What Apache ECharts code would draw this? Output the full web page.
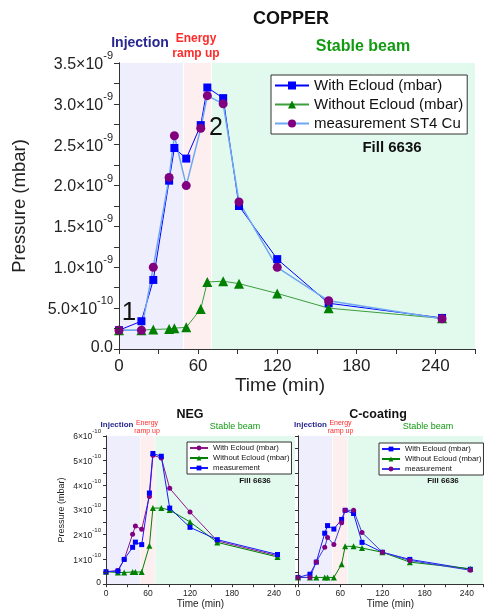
<!DOCTYPE html>
<html>
<head>
<meta charset="utf-8">
<script src="https://cdn.jsdelivr.net/npm/echarts@6/dist/echarts.min.js"></script>
<style>
html,body{margin:0;padding:0;background:#fff;}
#c{width:486px;height:610px;}
</style>
</head>
<body>
<div id="c"></div>
<script>
// ---- shared time axis (min) ----
const timeMin = [0, 17, 26, 38, 42, 51, 62, 67, 79, 91, 120, 159, 245];
// ---- COPPER (values in units of 1e-9 mbar) ----
const cuWithEcloud    = [0.23, 0.34, 0.845, 2.06, 2.46, 2.33, 2.74, 3.20, 3.07, 1.75, 1.10, 0.56, 0.38];
const cuWithoutEcloud = [0.23, 0.23, 0.24, 0.245, 0.255, 0.265, 0.49, 0.82, 0.83, 0.80, 0.68, 0.50, 0.375];
const cuMeasurement   = [0.23, 0.23, 1.00, 2.10, 2.61, 2.00, 2.70, 3.10, 3.00, 1.80, 1.00, 0.59, 0.37];
// ---- NEG (values in units of 1e-10 mbar) ----
const negWithEcloud    = [0.50, 0.55, 1.00, 2.02, 2.35, 2.22, 3.55, 5.22, 5.11, 3.88, 2.92, 1.75, 1.15];
const negWithoutEcloud = [0.50, 0.47, 0.47, 0.49, 0.49, 0.49, 1.55, 3.08, 3.08, 3.00, 2.52, 1.69, 1.10];
const negMeasurement   = [0.50, 0.53, 1.00, 1.49, 1.70, 1.60, 3.69, 5.29, 5.18, 3.08, 2.30, 1.80, 1.20];
// ---- C-coating (values in units of 1e-10 mbar) ----
const ccWithEcloud    = [0.27, 0.40, 0.89, 2.06, 2.37, 2.23, 2.62, 2.99, 2.86, 1.69, 1.29, 1.00, 0.60];
const ccWithoutEcloud = [0.27, 0.27, 0.27, 0.27, 0.27, 0.27, 0.80, 1.53, 1.53, 1.46, 1.29, 0.89, 0.62];
const ccMeasurement   = [0.27, 0.27, 0.90, 1.49, 1.89, 1.60, 2.49, 2.99, 2.99, 2.09, 1.29, 0.96, 0.56];
// ---- beam phases (min) ----
const phaseInjection = [0, 48.4];
const phaseRamp = [49.2, 69.9];
const phaseStable = [70.5, 270];
// ---- tick labels ----
const xTickLabels = [0, 60, 120, 180, 240];

const FONT = '"Liberation Sans", Arial, sans-serif';
const pairs = (ys) => timeMin.map((t, i) => [t, ys[i]]);

const chart = echarts.init(document.getElementById('c'), null, {renderer: 'canvas'});

function fmtMain(v) {
  const r = Math.round(v * 100) / 100;
  if (Math.abs(r * 2 - Math.round(r * 2)) > 1e-6) return '';
  if (r === 0) return '{m|0.0}';
  if (r < 1) return '{m|' + (r * 10).toFixed(1) + '×10}{s|-10}';
  return '{m|' + r.toFixed(1) + '×10}{s|-9}';
}
function fmtSmall(v) {
  const r = Math.round(v * 100) / 100;
  if (Math.abs(r - Math.round(r)) > 1e-6) return '';
  if (r === 0) return '{m|0}';
  return '{m|' + r + '×10}{s|-10}';
}
const fmtX = (v) => (xTickLabels.indexOf(v) >= 0 ? String(v) : '');

function xAxes(grid, max, big) {
  const fs = big ? 17 : 8.5;
  return [
    {type: 'value', gridIndex: grid, min: 0, max: max, interval: 30, position: 'bottom', z: 5,
     axisLine: {lineStyle: {color: '#333', width: 1}},
     axisTick: {inside: false, length: big ? 5 : 3, lineStyle: {color: '#333'}},
     axisLabel: {formatter: fmtX, fontSize: fs, color: '#222', fontFamily: FONT, margin: big ? 9 : 5},
     splitLine: {show: false},
     name: 'Time (min)', nameLocation: 'middle', nameGap: big ? 25 : 13,
     nameTextStyle: {fontSize: big ? 19 : 10, color: '#222', fontFamily: FONT, padding: big ? [0, 34, 0, 0] : 0}},
    {type: 'value', gridIndex: grid, min: 0, max: max, interval: 30, position: 'top', z: 5,
     axisLine: {lineStyle: {color: '#333', width: 1}},
     axisTick: {inside: true, length: big ? 5 : 3, lineStyle: {color: '#333'}},
     axisLabel: {show: false}, splitLine: {show: false}}
  ];
}
function yAxes(grid, max, interval, big, showLabels) {
  const fs = big ? 16 : 8.5;
  const left = {type: 'value', gridIndex: grid, min: 0, max: max, interval: interval, position: 'left', z: 5,
     axisLine: {show: true, lineStyle: {color: '#333', width: 1}},
     axisTick: {show: true, inside: false, length: big ? 5 : 3, lineStyle: {color: '#333'}},
     axisLabel: {show: showLabels, formatter: big ? fmtMain : fmtSmall, margin: big ? 6 : 5, color: '#222', fontFamily: FONT,
       padding: big ? [0, 0, 6, 0] : [0, 0, 4, 0],
       rich: {m: {fontSize: fs, fontFamily: FONT, color: '#222', verticalAlign: 'bottom', padding: big ? [0, 0, -3, 0] : [0, 0, -2, 0]},
              s: {fontSize: big ? 11 : 6, fontFamily: FONT, color: '#222', verticalAlign: 'bottom',
                  padding: big ? [0, 0, 8, 0] : [0, 0, 5, 0]}}},
     splitLine: {show: false}};
  if (showLabels) {
    left.name = 'Pressure (mbar)';
    left.nameLocation = 'middle';
    left.nameGap = big ? 90 : 40;
    left.nameTextStyle = {fontSize: big ? 18.5 : 9, color: '#222', fontFamily: FONT};
  }
  const right = {type: 'value', gridIndex: grid, min: 0, max: max, interval: interval, position: 'right', z: 5,
     axisLine: {show: true, lineStyle: {color: '#333', width: 1}},
     axisTick: {show: true, inside: true, length: big ? 5 : 3, lineStyle: {color: '#333'}},
     axisLabel: {show: false}, splitLine: {show: false}};
  return [left, right];
}

function bandSeries(xi, yi) {
  return {type: 'line', xAxisIndex: xi, yAxisIndex: yi, data: [], silent: true, z: 0,
    markArea: {silent: true, z: 0, label: {show: false},
      data: [
        [{xAxis: phaseInjection[0], itemStyle: {color: '#eeeefc'}}, {xAxis: phaseInjection[1]}],
        [{xAxis: phaseRamp[0], itemStyle: {color: '#fdefef'}}, {xAxis: phaseRamp[1]}],
        [{xAxis: phaseStable[0], itemStyle: {color: '#e2f9ee'}}, {xAxis: phaseStable[1]}]
      ]}};
}
function lineSeries(name, xi, yi, ys, lineColor, markColor, symbol, size, lw) {
  return {type: 'line', name: name, xAxisIndex: xi, yAxisIndex: yi, data: pairs(ys),
    symbol: symbol, symbolSize: size, showAllSymbol: true, z: 3,
    lineStyle: {color: lineColor, width: lw},
    itemStyle: {color: markColor, borderWidth: 0},
    emphasis: {disabled: true}, animation: false};
}

// unique legend keys per panel (zero-width suffix), stripped for display
const Z1 = '\u200b', Z2 = '\u200b\u200b';
const strip = (n) => n.replace(/\u200b/g, '');

const legendBase = (big) => ({
  orient: 'vertical', backgroundColor: '#fff', borderColor: '#333', borderWidth: 1,
  borderRadius: 0, formatter: strip, selectedMode: false,
  itemWidth: big ? 34 : 18, itemHeight: big ? 10 : 6, itemGap: big ? 4 : 2,
  padding: big ? [3, 4, 3, 3] : [2, 2, 2, 2],
  textStyle: {fontSize: big ? 15 : 7.7, color: '#111', fontFamily: FONT, lineHeight: big ? 15 : 8, padding: 0}
});

const txt = (x, y, text, size, color, bold, align) => ({
  type: 'text', x: x, y: y, z: 10,
  style: {text: text, fontSize: size, fontFamily: FONT, fontWeight: bold ? 'bold' : 'normal',
          fill: color, textAlign: align || 'center', textVerticalAlign: 'middle'}
});

const NAVY = '#27278f', RED = '#ff2a2a', GREEN = '#139a13';

const option = {
  backgroundColor: '#fff',
  animation: false,
  grid: [
    {left: 119, top: 63, width: 356, height: 286},
    {left: 106, top: 436, width: 189, height: 151},
    {left: 298, top: 436, width: 186, height: 151}
  ],
  xAxis: [].concat(xAxes(0, 270, true), xAxes(1, 270, false), xAxes(2, 263, false)),
  yAxis: [].concat(yAxes(0, 3.5, 0.25, true, true), yAxes(1, 6, 0.5, false, true), yAxes(2, 6, 0.5, false, false)),
  legend: [
    Object.assign(legendBase(true), {left: 271, top: 75,
      data: ['With Ecloud (mbar)', 'Without Ecloud (mbar)', 'measurement ST4 Cu']}),
    Object.assign(legendBase(false), {left: 187, top: 442,
      data: ['With Ecloud (mbar)' + Z1, 'Without Ecloud (mbar)' + Z1, 'measurement' + Z1]}),
    Object.assign(legendBase(false), {left: 379, top: 443,
      data: ['With Ecloud (mbar)' + Z2, 'Without Ecloud (mbar)' + Z2, 'measurement' + Z2]})
  ],
  series: [
    bandSeries(0, 0),
    lineSeries('With Ecloud (mbar)', 0, 0, cuWithEcloud, '#0000ff', '#0000ff', 'rect', 8, 1),
    lineSeries('Without Ecloud (mbar)', 0, 0, cuWithoutEcloud, '#3c9e3c', '#008000', 'triangle', 10, 1),
    lineSeries('measurement ST4 Cu', 0, 0, cuMeasurement, '#6fa6f2', '#800080', 'circle', 9, 1.5),

    bandSeries(2, 2),
    lineSeries('With Ecloud (mbar)' + Z1, 2, 2, negWithEcloud, '#8b1a8b', '#800080', 'circle', 5, 1),
    lineSeries('Without Ecloud (mbar)' + Z1, 2, 2, negWithoutEcloud, '#008000', '#008000', 'triangle', 6, 1),
    lineSeries('measurement' + Z1, 2, 2, negMeasurement, '#1a1aff', '#0000ff', 'rect', 5, 1),

    bandSeries(4, 4),
    lineSeries('With Ecloud (mbar)' + Z2, 4, 4, ccWithEcloud, '#1a1aff', '#0000ff', 'rect', 5, 1),
    lineSeries('Without Ecloud (mbar)' + Z2, 4, 4, ccWithoutEcloud, '#008000', '#008000', 'triangle', 6, 1),
    lineSeries('measurement' + Z2, 4, 4, ccMeasurement, '#3a3ae0', '#800080', 'circle', 5, 1)
  ],
  graphic: [
    txt(291, 19, 'COPPER', 18, '#111', true),
    txt(140, 43, 'Injection', 14, NAVY, true),
    txt(196, 39, 'Energy', 12, RED, true),
    txt(196, 54, 'ramp up', 12, RED, true),
    txt(363, 47, 'Stable beam', 16, GREEN, true),
    txt(392, 148, 'Fill 6636', 15, '#111', true),
    txt(129, 313, '1', 26, '#111', false),
    txt(216, 128, '2', 25, '#111', false),

    txt(190, 415, 'NEG', 12.5, '#111', true),
    txt(117, 425, 'Injection', 8, NAVY, true),
    txt(147, 423, 'Energy', 7, RED, false),
    txt(147, 431.5, 'ramp up', 7, RED, false),
    txt(235, 427, 'Stable beam', 9, GREEN, false),
    txt(255, 481, 'Fill 6636', 8, '#111', true),

    txt(378, 415, 'C-coating', 12.5, '#111', true),
    txt(310.5, 425, 'Injection', 8, NAVY, true),
    txt(340.5, 423, 'Energy', 7, RED, false),
    txt(340.5, 431.5, 'ramp up', 7, RED, false),
    txt(428, 427, 'Stable beam', 9, GREEN, false),
    txt(443, 481, 'Fill 6636', 8, '#111', true)
  ]
};
chart.setOption(option);
</script>
</body>
</html>
